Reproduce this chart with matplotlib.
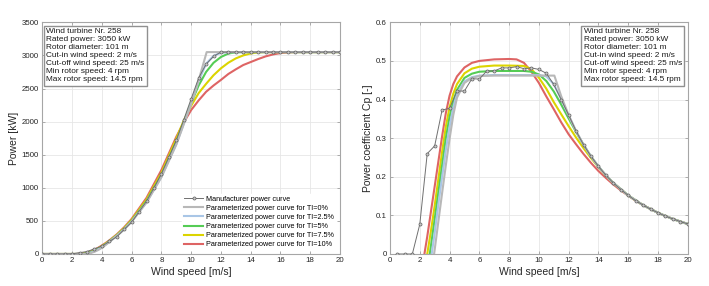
import numpy as np
import matplotlib
matplotlib.use('Agg')
import matplotlib.pyplot as plt

plt.rcParams['font.family'] = ['Liberation Sans', 'DejaVu Sans']

# manufacturer curve (0.5 m/s steps)
ws_man = [0, 0.5, 1, 1.5, 2, 2.5, 3, 3.5, 4, 4.5, 5, 5.5, 6, 6.5, 7, 7.5, 8, 8.5, 9, 9.5,
          10, 10.5, 11, 11.5, 12, 12.5, 13, 13.5, 14, 14.5, 15, 15.5, 16, 16.5, 17, 17.5,
          18, 18.5, 19, 19.5, 20]
p_man = [0, 0, 0, 0, 3, 20, 37, 78, 118, 189, 259, 371, 480, 639, 798, 998, 1211, 1462, 1717, 2028,
         2346, 2658, 2867, 2985, 3050, 3050, 3050, 3050, 3050, 3050, 3050, 3050, 3050, 3050, 3050, 3050,
         3050, 3050, 3050, 3050, 3050]
cp_man = [np.nan, 0, 0, 0, 0.077, 0.26, 0.28, 0.373, 0.377, 0.422, 0.422, 0.454, 0.453, 0.474, 0.474,
          0.482, 0.482, 0.485, 0.48, 0.482, 0.478, 0.468, 0.439, 0.40, 0.36, 0.318, 0.283, 0.253,
          0.227, 0.204, 0.184, 0.167, 0.152, 0.138, 0.127, 0.116, 0.107, 0.098, 0.091, 0.084, 0.078]

# parameterized curves, TI = 0 %
ws_ti0 = [0, 2.96, 3.0, 3.25, 3.5, 3.75, 4.0, 4.25, 4.5, 5.0, 5.5, 6.0, 7.0, 8.0, 9.0, 10.0, 10.5, 11.04,
          11.5, 12, 12.5, 13, 13.5, 14, 14.5, 15, 16, 17, 18, 19, 20]
p_ti0 = [0, 0, 1.5, 14.3, 33.2, 59.5, 93.6, 135.6, 181.1, 271.7, 372.3, 488.6, 777.6, 1160.7, 1652.7,
         2267, 2624.6, 3050, 3050, 3050, 3050, 3050, 3050, 3050, 3050, 3050, 3050, 3050, 3050, 3050, 3050]
cp_ti0 = [np.nan, 0, 0.011, 0.085, 0.158, 0.23, 0.298, 0.36, 0.405, 0.443, 0.456, 0.461, 0.462, 0.462,
          0.462, 0.462, 0.462, 0.462, 0.4087, 0.3597, 0.3182, 0.2829, 0.2526, 0.2265, 0.2039, 0.1842,
          0.1517, 0.1265, 0.1066, 0.0906, 0.0777]

# TI = 2.5 %
ws_ti25 = [0, 2.8, 3.0, 3.25, 3.5, 3.75, 4.0, 4.25, 4.5, 5.0, 5.5, 6.0, 7.0, 8.0, 9.0, 10.0, 10.5, 11.0,
           11.5, 12.0, 12.5, 13, 13.5, 14, 14.5, 15, 16, 17, 18, 19, 20]
p_ti25 = [0, 0, 7.3, 21.9, 42.1, 69.9, 103.6, 143.1, 185.6, 274.2, 373.9, 489.7, 780.1, 1164.5, 1658,
          2274.4, 2613, 2873.6, 2992.7, 3039.7, 3048, 3050, 3050, 3050, 3050, 3050, 3050, 3050, 3050,
          3050, 3050]
cp_ti25 = [np.nan, 0, 0.055, 0.13, 0.2, 0.27, 0.33, 0.38, 0.415, 0.447, 0.458, 0.462, 0.4635, 0.4635,
           0.4635, 0.4635, 0.46, 0.44, 0.401, 0.3585, 0.318, 0.2829, 0.2526, 0.2265, 0.2039, 0.1842,
           0.1517, 0.1265, 0.1066, 0.0906, 0.0777]

# TI = 5 %
ws_ti5 = [0, 2.67, 3.0, 3.25, 3.5, 3.75, 4.0, 4.25, 4.5, 5.0, 5.5, 6.0, 7.0, 8.0, 9.0, 9.5, 10.0, 10.5,
          11.0, 11.5, 12.0, 12.5, 13.0, 13.5, 14, 14.5, 15, 16, 17, 18, 19, 20]
p_ti5 = [0, 0, 11.9, 27, 48.4, 77.6, 111.5, 148.8, 190.1, 279.7, 381.3, 500.3, 797.8, 1190.9, 1695.6,
         1985.9, 2281.8, 2545, 2749.6, 2888.2, 2976.1, 3028.5, 3046.7, 3050, 3050, 3050, 3050, 3050,
         3050, 3050, 3050, 3050]
cp_ti5 = [np.nan, 0, 0.09, 0.16, 0.23, 0.30, 0.355, 0.395, 0.425, 0.456, 0.467, 0.472, 0.474, 0.474,
          0.474, 0.472, 0.465, 0.448, 0.421, 0.387, 0.351, 0.316, 0.2826, 0.2526, 0.2265, 0.2039,
          0.1842, 0.1517, 0.1265, 0.1066, 0.0906, 0.0777]

# TI = 7.5 %
ws_ti75 = [0, 2.5, 2.75, 3.0, 3.25, 3.5, 3.75, 4.0, 4.25, 4.5, 5.0, 5.5, 6.0, 7.0, 8.0, 9.0, 9.5, 10.0,
           10.5, 11.0, 11.5, 12.0, 12.5, 13.0, 13.5, 14.0, 14.5, 15.0, 16, 17, 18, 19, 20]
p_ti75 = [0, 0, 6.1, 16.6, 32.9, 55.8, 85.4, 119.3, 156.3, 196.8, 287.1, 391.9, 514, 821.4, 1226, 1742.1,
          2015.3, 2240, 2430, 2570, 2700, 2805, 2890, 2955, 3000, 3030, 3045, 3050, 3050, 3050, 3050,
          3050, 3050]
cp_ti75 = [np.nan, 0, 0.06, 0.125, 0.195, 0.265, 0.33, 0.38, 0.415, 0.44, 0.468, 0.48, 0.485, 0.488,
           0.488, 0.487, 0.479, 0.4565, 0.428, 0.3935, 0.362, 0.331, 0.3015, 0.274, 0.2485, 0.225,
           0.2035, 0.1842, 0.1517, 0.1265, 0.1066, 0.0906, 0.0777]

# TI = 10 %
ws_ti10 = [0, 2.31, 2.5, 2.75, 3.0, 3.25, 3.5, 3.75, 4.0, 4.25, 4.5, 5.0, 5.5, 6.0, 7.0, 8.0, 8.5, 9.0,
           9.5, 10.0, 10.5, 11.0, 11.5, 12.0, 12.5, 13.0, 13.5, 14.0, 14.5, 15.0, 15.5, 16.0, 16.5,
           17, 18, 19, 20]
p_ti10 = [0, 0, 3.5, 11.2, 23.2, 40.4, 64.2, 94.5, 128.7, 165.7, 205.7, 296.3, 404.1, 530, 848.3, 1268.8,
          1518.8, 1770.7, 1985.8, 2175, 2320, 2450, 2545, 2630, 2720, 2790, 2855, 2900, 2945, 2985,
          3015, 3035, 3045, 3050, 3050, 3050, 3050]
cp_ti10 = [np.nan, 0, 0.045, 0.11, 0.175, 0.24, 0.305, 0.365, 0.41, 0.44, 0.46, 0.483, 0.495, 0.50,
           0.504, 0.505, 0.504, 0.495, 0.472, 0.443, 0.408, 0.375, 0.341, 0.310, 0.284, 0.259, 0.236,
           0.215, 0.197, 0.180, 0.165, 0.151, 0.138, 0.1265, 0.1066, 0.0906, 0.0777]

ti_labels = ['0%', '2.5%', '5%', '7.5%', '10%']
ti_colors = ['#b8b8b8', '#a9c6e6', '#55cc55', '#dcd400', '#de6464']
ti_ws = [ws_ti0, ws_ti25, ws_ti5, ws_ti75, ws_ti10]
ti_p = [p_ti0, p_ti25, p_ti5, p_ti75, p_ti10]
ti_cp = [cp_ti0, cp_ti25, cp_ti5, cp_ti75, cp_ti10]

info = ('Wind turbine Nr. 258\nRated power: 3050 kW\nRotor diameter: 101 m\n'
        'Cut-in wind speed: 2 m/s\nCut-off wind speed: 25 m/s\nMin rotor speed: 4 rpm\n'
        'Max rotor speed: 14.5 rpm')

fig = plt.figure(figsize=(7.09, 2.86), dpi=100)
ax1 = fig.add_axes([0.0597, 0.1119, 0.4199, 0.8101])
ax2 = fig.add_axes([0.5501, 0.1119, 0.4199, 0.8101])


def style(ax):
    ax.set_xlim(0, 20)
    ax.set_xticks(range(0, 21, 2))
    ax.grid(True, color='#e6e6e6', lw=0.6)
    ax.set_axisbelow(True)
    ax.tick_params(direction='in', top=True, right=True, length=2.5, width=0.6,
                   labelsize=5.7, colors='#a0a0a0', labelcolor='#262626', pad=2.5)
    for s in ax.spines.values():
        s.set_color('#a6a6a6')
        s.set_linewidth(0.8)
    ax.set_xlabel('Wind speed [m/s]', fontsize=7.5, color='#262626', labelpad=1.5)


# left: power
handles = []
for i in reversed(range(5)):
    h, = ax1.plot(ti_ws[i], ti_p[i], color=ti_colors[i], lw=1.5, zorder=2 + (4 - i) * 0.1,
                  label='Parameterized power curve for TI=' + ti_labels[i])
    handles.append(h)
hm, = ax1.plot(ws_man, p_man, color='#707070', lw=0.7, marker='o', ms=2.2, mfc='#c8c8c8',
               mec='#606060', mew=0.5, zorder=3, label='Manufacturer power curve')
handles = [hm] + handles[::-1]
ax1.set_ylim(0, 3500)
ax1.set_yticks(range(0, 3501, 500))
ax1.set_ylabel('Power [kW]', fontsize=7.5, color='#262626', labelpad=2)
style(ax1)
leg = ax1.legend(handles=handles, loc='lower right', fontsize=5.2, frameon=True, fancybox=False,
                 edgecolor='white', facecolor='white', framealpha=1, handlelength=2.7,
                 labelspacing=0.28, borderaxespad=0.5, borderpad=0.3, handletextpad=0.4)
ax1.text(0.013, 0.975, info, transform=ax1.transAxes, ha='left', va='top', fontsize=5.95,
         color='#1a1a1a', linespacing=1.2,
         bbox=dict(boxstyle='square,pad=0.3', fc='white', ec='#909090', lw=1.0))

# right: power coefficient
for i in reversed(range(5)):
    ax2.plot(ti_ws[i], ti_cp[i], color=ti_colors[i], lw=1.5, zorder=2 + (4 - i) * 0.1)
ax2.plot(ws_man, cp_man, color='#707070', lw=0.7, marker='o', ms=2.2, mfc='#c8c8c8',
         mec='#606060', mew=0.5, zorder=3)
ax2.set_ylim(0, 0.6)
ax2.set_yticks([0, 0.1, 0.2, 0.3, 0.4, 0.5, 0.6])
ax2.set_yticklabels(['0', '0.1', '0.2', '0.3', '0.4', '0.5', '0.6'])
ax2.set_ylabel('Power coefficient Cp [-]', fontsize=7.5, color='#262626', labelpad=2)
style(ax2)
ax2.text(0.65, 0.975, info, transform=ax2.transAxes, ha='left', va='top', fontsize=5.95,
         color='#1a1a1a', linespacing=1.2,
         bbox=dict(boxstyle='square,pad=0.3', fc='white', ec='#909090', lw=1.0))

fig.savefig('out.png', dpi=100)
